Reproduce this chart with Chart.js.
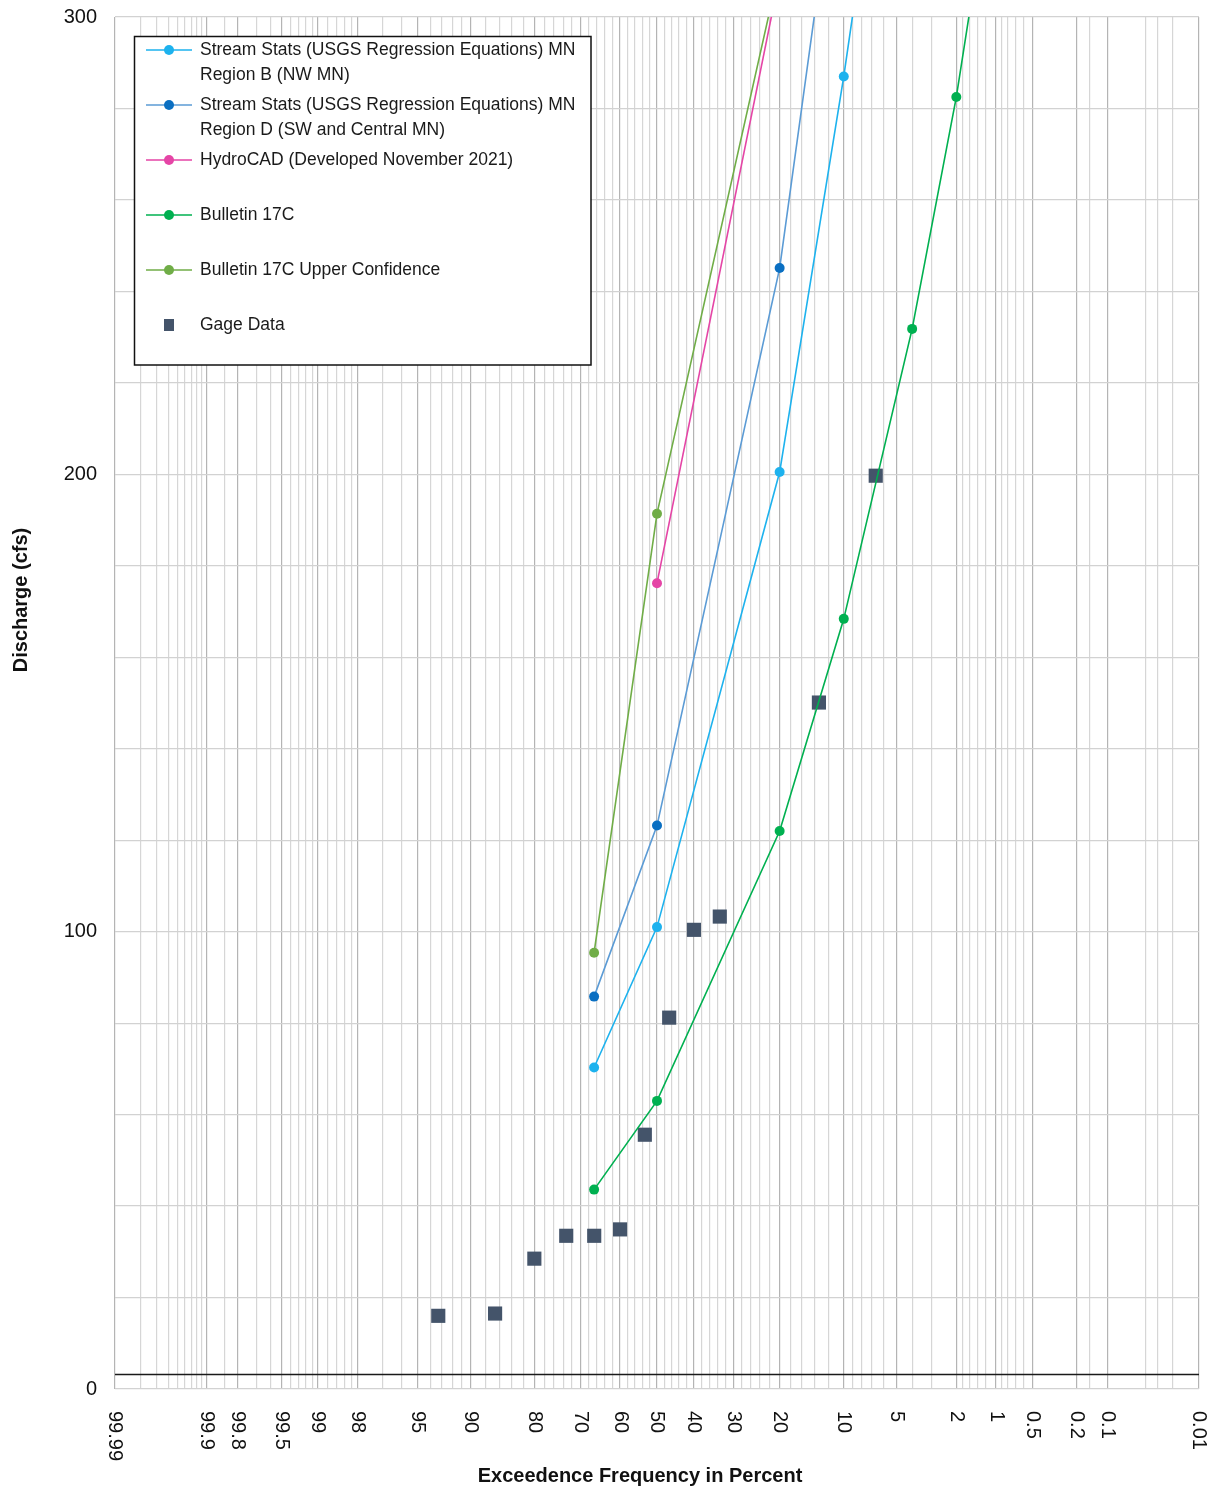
<!DOCTYPE html>
<html>
<head>
<meta charset="utf-8">
<title>Discharge Frequency</title>
<script src="https://cdn.jsdelivr.net/npm/chart.js@4.4.1/dist/chart.umd.min.js"></script>
<style>
  html, body { margin: 0; padding: 0; background: #ffffff; }
  #wrap { width: 1216px; height: 1491px; }
</style>
</head>
<body>
<div id="wrap"><canvas id="chart" width="1216" height="1491"></canvas></div>
<script>
// ---- Exceedance frequency (%) and discharge (cfs) for each series ----
const PCT_REGION_B = [66.7, 50, 20, 10, 4];
const Q_REGION_B   = [70.3, 101.0, 200.5, 287.0, 390.0];

const PCT_REGION_D = [66.7, 50, 20, 10];
const Q_REGION_D   = [85.8, 123.2, 245.1, 347.0];

const PCT_HYDROCAD = [50, 20];
const Q_HYDROCAD   = [176.2, 309.0];

const PCT_B17C = [66.7, 50, 20, 10, 4, 2, 1];
const Q_B17C   = [43.6, 63.0, 122.0, 168.4, 231.8, 282.5, 338.0];

const PCT_B17C_UPPER = [66.7, 50, 20];
const Q_B17C_UPPER   = [95.4, 191.4, 311.0];

const PCT_GAGE = [93.33, 86.67, 80, 73.33, 66.67, 60, 53.33, 46.67, 40, 33.33, 13.33, 6.67];
const Q_GAGE   = [16.0, 16.5, 28.5, 33.5, 33.5, 34.9, 55.6, 81.2, 100.4, 103.3, 150.1, 199.7];

// ---- Probability-paper grid ----
const X_LABELS = [99.99, 99.9, 99.8, 99.5, 99, 98, 95, 90, 80, 70, 60, 50, 40, 30, 20, 10, 5, 2, 1, 0.5, 0.2, 0.1, 0.01];
const X_GRID = [
  99.99, 99.98, 99.97, 99.96, 99.95, 99.94, 99.93, 99.92, 99.91, 99.9, 99.85, 99.8,
  99.7, 99.6, 99.5, 99.4, 99.3, 99.2, 99.1, 99, 98.8, 98.6, 98.4, 98.2, 98,
  97, 96, 95, 94, 93, 92, 91, 90,
  88, 86, 84, 82, 80, 78, 76, 74, 72, 70, 68, 66, 64, 62, 60, 58, 56, 54, 52, 50,
  48, 46, 44, 42, 40, 38, 36, 34, 32, 30, 28, 26, 24, 22, 20, 18, 16, 14, 12, 10,
  9, 8, 7, 6, 5, 4, 3, 2, 1.8, 1.6, 1.4, 1.2, 1, 0.9, 0.8, 0.7, 0.6, 0.5,
  0.2, 0.15, 0.1, 0.04, 0.03, 0.02, 0.01
];
const Y_LABELS = [0, 100, 200, 300];
const AXIS_CROSS_Q = 3.2;

const FONT = '"Liberation Sans", Arial, sans-serif';

// Inverse standard normal CDF (Acklam)
function normInv(p) {
  const a = [-3.969683028665376e+01, 2.209460984245205e+02, -2.759285104469687e+02, 1.383577518672690e+02, -3.066479806614716e+01, 2.506628277459239e+00];
  const b = [-5.447609879822406e+01, 1.615858368580409e+02, -1.556989798598866e+02, 6.680131188771972e+01, -1.328068155288572e+01];
  const c = [-7.784894002430293e-03, -3.223964580411365e-01, -2.400758277161838e+00, -2.549732539343734e+00, 4.374664141464968e+00, 2.938163982698783e+00];
  const d = [7.784695709041462e-03, 3.224671290700398e-01, 2.445134137142996e+00, 3.754408661907416e+00];
  const pl = 0.02425, ph = 1 - pl;
  let q, r;
  if (p < pl) {
    q = Math.sqrt(-2 * Math.log(p));
    return (((((c[0]*q+c[1])*q+c[2])*q+c[3])*q+c[4])*q+c[5]) / ((((d[0]*q+d[1])*q+d[2])*q+d[3])*q+1);
  }
  if (p <= ph) {
    q = p - 0.5; r = q * q;
    return (((((a[0]*r+a[1])*r+a[2])*r+a[3])*r+a[4])*r+a[5])*q / (((((b[0]*r+b[1])*r+b[2])*r+b[3])*r+b[4])*r+1);
  }
  q = Math.sqrt(-2 * Math.log(1 - p));
  return -(((((c[0]*q+c[1])*q+c[2])*q+c[3])*q+c[4])*q+c[5]) / ((((d[0]*q+d[1])*q+d[2])*q+d[3])*q+1);
}
function normCdf(z) {
  const t = 1 / (1 + 0.2316419 * Math.abs(z));
  const poly = t * (0.319381530 + t * (-0.356563782 + t * (1.781477937 + t * (-1.821255978 + t * 1.330274429))));
  const v = 1 - Math.exp(-z * z / 2) / Math.sqrt(2 * Math.PI) * poly;
  return z >= 0 ? v : 1 - v;
}
// exceedance percent -> standard normal deviate (rare events to the right)
const zOf = p => -normInv(p / 100);

// Normal-probability axis for exceedance percentages
class ProbabilityScale extends Chart.Scale {
  determineDataLimits() {
    this.min = this.options.min;
    this.max = this.options.max;
  }
  buildTicks() {
    return X_GRID.map(v => ({ value: v, major: X_LABELS.includes(v) }));
  }
  getLabelForValue(v) { return String(v); }
  getPixelForValue(v) {
    const z0 = zOf(this.min), z1 = zOf(this.max);
    return this.getPixelForDecimal((zOf(v) - z0) / (z1 - z0));
  }
  getPixelForTick(i) {
    const t = this.ticks[i];
    return t ? this.getPixelForValue(t.value) : NaN;
  }
  getValueForPixel(px) {
    const z0 = zOf(this.min), z1 = zOf(this.max);
    const z = z0 + this.getDecimalForPixel(px) * (z1 - z0);
    return 100 * (1 - normCdf(z));
  }
}
ProbabilityScale.id = 'probability';
ProbabilityScale.defaults = {};
Chart.register(ProbabilityScale);

const pts = (xs, ys) => xs.map((x, i) => ({ x, y: ys[i] }));

function lineSeries(label, pct, q, lineColor, pointColor) {
  return {
    label,
    data: pts(pct, q),
    showLine: true,
    borderColor: lineColor,
    backgroundColor: pointColor,
    pointBackgroundColor: pointColor,
    pointBorderColor: pointColor,
    borderWidth: 1.6,
    pointRadius: 5,
    pointBorderWidth: 0,
    pointStyle: 'circle',
    tension: 0
  };
}

const datasets = [
  lineSeries('Stream Stats (USGS Regression Equations) MN\nRegion B (NW MN)', PCT_REGION_B, Q_REGION_B, '#1DB2EE', '#1DB2EE'),
  lineSeries('Stream Stats (USGS Regression Equations) MN\nRegion D (SW and Central MN)', PCT_REGION_D, Q_REGION_D, '#5B9BD5', '#0A6FC2'),
  lineSeries('HydroCAD (Developed November 2021)', PCT_HYDROCAD, Q_HYDROCAD, '#E545A6', '#E545A6'),
  lineSeries('Bulletin 17C', PCT_B17C, Q_B17C, '#00B050', '#00B050'),
  lineSeries('Bulletin 17C Upper Confidence', PCT_B17C_UPPER, Q_B17C_UPPER, '#70AD47', '#70AD47'),
  {
    label: 'Gage Data',
    data: pts(PCT_GAGE, Q_GAGE),
    showLine: false,
    pointStyle: 'rect',
    pointRadius: 10,
    pointBackgroundColor: '#44546A',
    pointBorderColor: '#44546A',
    pointBorderWidth: 0,
    backgroundColor: '#44546A',
    borderColor: '#44546A'
  }
];

const MAJOR_GRID = '#b4b4b4';
const MINOR_GRID = '#d6d6d6';

// Axis line, rotated tick labels, axis titles and the boxed legend
const decorations = {
  id: 'decorations',
  beforeDatasetsDraw(chart) {
    const { ctx, chartArea: a, scales: { y } } = chart;
    const py = Math.round(y.getPixelForValue(AXIS_CROSS_Q)) + 0.5;
    ctx.save();
    ctx.strokeStyle = '#1a1a1a';
    ctx.lineWidth = 1.5;
    ctx.beginPath();
    ctx.moveTo(a.left, py);
    ctx.lineTo(a.right, py);
    ctx.stroke();
    ctx.restore();
  },
  afterDraw(chart) {
    const { ctx, chartArea: a, scales: { x } } = chart;
    ctx.save();
    // x tick labels, turned to read downward
    ctx.fillStyle = '#111';
    ctx.font = '20px ' + FONT;
    ctx.textAlign = 'left';
    ctx.textBaseline = 'middle';
    for (const v of X_LABELS) {
      const px = x.getPixelForValue(v);
      ctx.save();
      ctx.translate(px, a.bottom + 22);
      ctx.rotate(Math.PI / 2);
      ctx.fillText(String(v), 0, 0);
      ctx.restore();
    }
    // axis titles
    ctx.font = 'bold 20px ' + FONT;
    ctx.textAlign = 'center';
    ctx.textBaseline = 'middle';
    ctx.fillText('Exceedence Frequency in Percent', 640, a.bottom + 87);
    ctx.save();
    ctx.translate(21, 600);
    ctx.rotate(-Math.PI / 2);
    ctx.fillText('Discharge (cfs)', 0, 0);
    ctx.restore();

    // legend
    const bx = a.left + 19.5, by = a.top + 19.5, bw = 456.5, bh = 328.5;
    ctx.fillStyle = '#ffffff';
    ctx.fillRect(bx, by, bw, bh);
    ctx.strokeStyle = '#111';
    ctx.lineWidth = 1.5;
    ctx.strokeRect(bx, by, bw, bh);
    ctx.font = '17.5px ' + FONT;
    ctx.textAlign = 'left';
    ctx.textBaseline = 'middle';
    const symX = bx + 34.5;
    chart.data.datasets.forEach((ds, i) => {
      const rowY = by + 13.5 + i * 55;
      if (ds.showLine) {
        ctx.strokeStyle = ds.borderColor;
        ctx.lineWidth = 1.6;
        ctx.beginPath();
        ctx.moveTo(symX - 23, rowY);
        ctx.lineTo(symX + 23, rowY);
        ctx.stroke();
        ctx.fillStyle = ds.pointBackgroundColor;
        ctx.beginPath();
        ctx.arc(symX, rowY, 5, 0, Math.PI * 2);
        ctx.fill();
      } else {
        ctx.fillStyle = ds.pointBackgroundColor;
        ctx.fillRect(symX - 5, rowY - 6, 10, 12);
      }
      ctx.fillStyle = '#1a1a1a';
      ds.label.split('\n').forEach((line, k) => {
        ctx.fillText(line, bx + 65.5, rowY + k * 25);
      });
    });
    ctx.restore();
  }
};

new Chart(document.getElementById('chart'), {
  type: 'scatter',
  data: { datasets },
  options: {
    responsive: false,
    animation: false,
    events: [],
    layout: { padding: { top: 17, right: 17, left: 0, bottom: 0 } },
    plugins: { legend: { display: false }, tooltip: { enabled: false }, title: { display: false } },
    scales: {
      x: {
        type: 'probability',
        position: 'bottom',
        min: 99.99,
        max: 0.01,
        ticks: { display: false, autoSkip: false },
        grid: {
          drawTicks: false,
          lineWidth: 1.2,
          color: c => (c.tick && c.tick.major) ? MAJOR_GRID : MINOR_GRID
        },
        border: { display: false },
        afterFit: s => { s.height = 102; s.paddingLeft = 0; s.paddingRight = 0; }
      },
      y: {
        type: 'linear',
        min: 0,
        max: 300,
        ticks: {
          stepSize: 20,
          autoSkip: false,
          padding: 18,
          color: '#111',
          font: { family: FONT, size: 20 },
          callback: v => Y_LABELS.includes(v) ? String(v) : ''
        },
        grid: { drawTicks: false, lineWidth: 1.2, color: '#d2d2d2' },
        border: { display: false },
        afterFit: s => { s.width = 115; s.paddingTop = 0; s.paddingBottom = 0; }
      }
    }
  },
  plugins: [decorations]
});
</script>
</body>
</html>
